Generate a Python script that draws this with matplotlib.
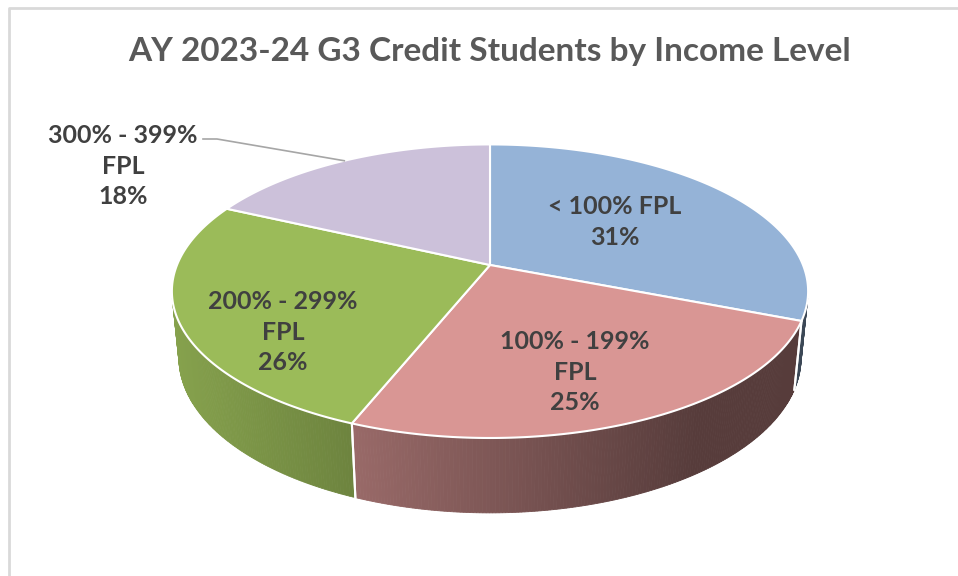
import numpy as np
import matplotlib
matplotlib.use("Agg")
import matplotlib.pyplot as plt
from matplotlib.patches import Polygon
from matplotlib.lines import Line2D

# ---------------- data ----------------
title = "AY 2023-24 G3 Credit Students by Income Level"
categories = ["< 100% FPL", "100% - 199%\nFPL", "200% - 299%\nFPL", "300% - 399%\nFPL"]
values = [31, 25, 26, 18]
colors = ["#95B3D7", "#D99694", "#9BBB59", "#CCC1DA"]

# ---------------- layout / style ----------------
W, H = 958, 576
CX, CY, RPX = 490.0, 265.0, 313.0      # projected centre and radius (pixels)
ELEV = np.deg2rad(27.0)                # tilt of the pie
FOC = 4.99                              # perspective focal distance (radius units)
DEPTH = 0.24                            # thickness (radius units)
label_pos = [(615, 222), (575, 372), (283, 332), (123, 166)]
FONT = ["Lato", "DejaVu Sans"]

fig = plt.figure(figsize=(W / 100, H / 100), dpi=100)
ax = fig.add_axes([0, 0, 1, 1])
ax.set_xlim(0, W)
ax.set_ylim(H, 0)
ax.axis("off")

se, ce = np.sin(ELEV), np.cos(ELEV)


def proj(theta, z=0.0, r=1.0):
    """theta: clockwise from back (radians); z: 0 top, negative below."""
    X = r * np.sin(theta)
    Y = r * np.cos(theta)
    v = Y * se + z * ce
    w = Y * ce - z * se
    s = FOC / (FOC + w)
    return CX + RPX * X * s, CY - RPX * v * s


def shade(hexcol, x):
    c = np.array(matplotlib.colors.to_rgb(hexcol))
    f = 0.86 - 0.00088 * (x - 175.0)
    f = np.clip(f, 0.40, 0.88)
    return tuple(c * f)


total = float(sum(values))
bounds = np.concatenate([[0.0], np.cumsum(values) / total * 2 * np.pi])

# visible side range: cos(theta) < -1/(f cos e)
lim = np.arccos(-1.0 / (FOC * ce))
vis_lo, vis_hi = lim, 2 * np.pi - lim

# ---- side walls ----
for i in range(len(values)):
    a0 = max(bounds[i], vis_lo)
    a1 = min(bounds[i + 1], vis_hi)
    if a1 <= a0:
        continue
    n = max(int(np.degrees(a1 - a0) / 0.5), 2)
    ts = np.linspace(a0, a1, n + 1)
    for t0, t1 in zip(ts[:-1], ts[1:]):
        p1 = proj(t0, 0); p2 = proj(t1, 0)
        p3 = proj(t1, -DEPTH); p4 = proj(t0, -DEPTH)
        xm = (p1[0] + p2[0]) / 2
        col = shade(colors[i], xm)
        ax.add_patch(Polygon([p1, p2, p3, p4], closed=True, facecolor=col,
                             edgecolor=col, linewidth=0.6, zorder=1))
    # white seams at slice boundaries on the wall
    for t in (bounds[i], bounds[i + 1]):
        if vis_lo < t < vis_hi:
            pa, pb = proj(t, 0), proj(t, -DEPTH)
            ax.add_line(Line2D([pa[0], pb[0]], [pa[1], pb[1]], color="white",
                               lw=1.5, zorder=2))

# ---- top face ----
for i in range(len(values)):
    ts = np.linspace(bounds[i], bounds[i + 1], 200)
    xs, ys = proj(ts, 0)
    pts = [(CX, CY)] + list(zip(xs, ys))
    ax.add_patch(Polygon(pts, closed=True, facecolor=colors[i], edgecolor="white",
                         linewidth=1.5, joinstyle="round", zorder=3))

# ---- labels ----
for i, (lab, v) in enumerate(zip(categories, values)):
    x, y = label_pos[i]
    ax.text(x, y, f"{lab}\n{v}%", ha="center", va="center", fontsize=18,
            fontweight="bold", color="#404040", family=FONT, linespacing=1.38,
            zorder=5)

# leader line for the outside label (last slice)
mid = (bounds[-2] + bounds[-1]) / 2
ex, ey = proj(mid, 0)
ax.add_line(Line2D([203, 217, ex], [139, 139, ey], color="#A6A6A6", lw=1.2, zorder=4))

# ---- title ----
ax.text(490, 52, title, ha="center", va="center", fontsize=24, color="#595959",
        family=FONT, fontweight="bold")

# ---- chart area border ----
ax.add_line(Line2D([9, 9, W + 5], [H + 5, 8, 8], color="#D9D9D9", lw=2, zorder=0))

fig.savefig("out.png", dpi=100, facecolor="white")
